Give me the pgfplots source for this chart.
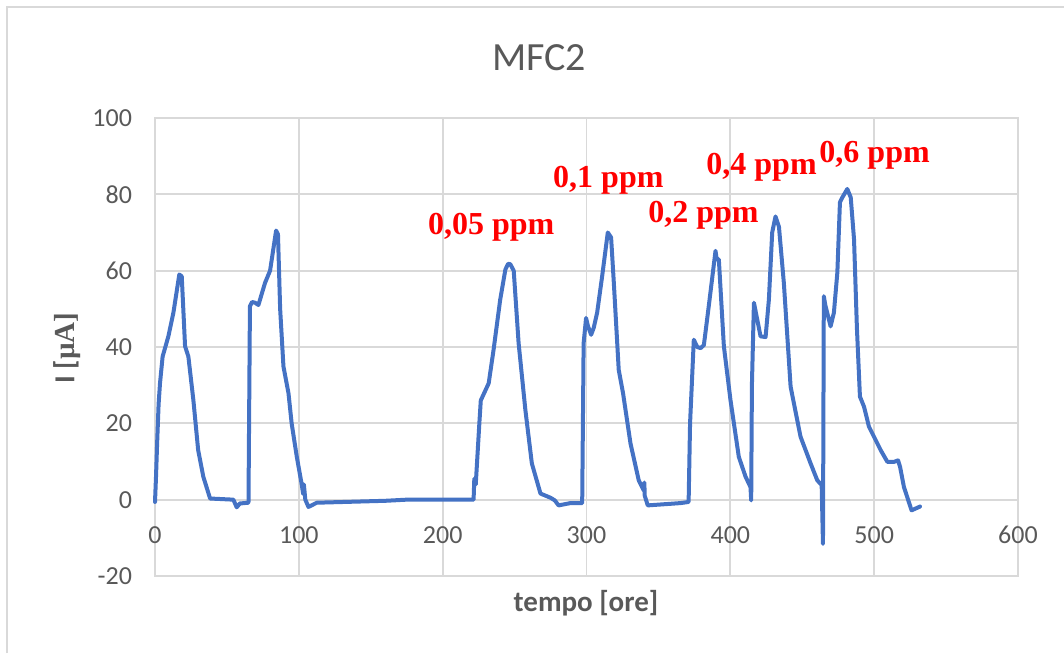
\documentclass[border=0pt]{standalone}
\usepackage{pgfplots}
\pgfplotsset{compat=1.18}
\usepackage{fontspec}
\setmainfont{Carlito}
\newfontfamily\timesf{Liberation Serif}
\definecolor{linblue}{HTML}{4472C4}
\definecolor{gridgr}{HTML}{D9D9D9}
\definecolor{txtgr}{HTML}{595959}
\definecolor{framegr}{HTML}{D9D9D9}
\begin{document}
\begin{tikzpicture}
\useasboundingbox (0,0) rectangle (532pt,326.5pt);
\draw[framegr, line width=1pt] (3.5pt,0pt) -- (3.5pt,323pt) -- (532pt,323pt);
\node[txtgr, font=\fontsize{20}{24}\selectfont] at (269.5pt,297.5pt) {MFC2};
\node[txtgr, font=\fontsize{14.5}{17}\selectfont\bfseries] at (293pt,25pt) {tempo [ore]};
\node[txtgr, rotate=90] at (33.5pt,152.5pt) {\fontsize{14.5}{17}\selectfont\bfseries I [\timesf µA]};
\begin{axis}[
  at={(77.5pt,38.5pt)}, anchor=south west,
  scale only axis, width=431.5pt, height=229pt,
  xmin=0, xmax=600, ymin=-20, ymax=100,
  xtick={0,100,...,600}, ytick={-20,0,...,100},
  grid=major,
  major grid style={gridgr, line width=0.9pt},
  axis line style={gridgr, line width=0.9pt},
  tick style={draw=none},
  /pgf/number format/assume math mode=true,
  tick label style={txtgr, font=\fontsize{13}{15}\selectfont},
  xticklabel style={anchor=center, yshift=20.5pt},
  yticklabel style={anchor=east, xshift=-8pt},
  clip=false,
]
\addplot[linblue, line width=2pt, line join=round, line cap=round, no marks] coordinates {
(0,-0.6) (0.7,6) (1.5,15) (2.5,25) (3.5,30.6) (5.3,37.5) (9.3,42.8) (12.8,49) (16.9,59) (18.6,58.5) (20.9,40.2) (23.2,37.5) (26.7,26) (30,13) (33.6,6) (38.3,0.3) (54.5,0) (56.8,-2) (59,-1) (65,-0.8)
(66,50.7) (67.5,51.8) (69.6,51.6) (71.9,51) (76.5,56.8) (80,60) (82,65) (84.2,70.5) (85.5,69.5) (87,50) (89.3,34.9) (92.8,27.9) (95,20) (98.6,11.2) (102,4) (103,1.5) (103.5,4) (104.5,0) (106.7,-1.9) (112.5,-0.8) (160,-0.3) (175,0)
(221.5,0) (222,5.5) (223,4) (225.5,20) (226.5,26) (232,30.5) (235.4,39.3) (240,52.4) (243.6,60.3) (245.5,61.8) (247,61.7) (249.4,60) (252.8,41) (257.5,23.5) (262,9.5) (268,1.6) (275,0.5) (278,-0.2) (280.6,-1.5) (288.8,-0.9) (297,-0.9)
(297.5,20) (298,41) (299.7,47.6) (301,45.5) (303.2,43.2) (305,45) (307.4,49) (310.9,58.6) (314.8,70) (317.1,68.7) (319,56.8) (322.4,34) (325.4,27.9) (330.6,14.7) (336.3,5.1) (339.8,2.4) (340.2,4.5) (340.5,1) (342.6,-1.5) (365.3,-0.9) (371,-0.6)
(372,20) (374.6,41.9) (377,40) (379.3,39.7) (381.6,40.5) (385,50.7) (389.7,65.2) (390.5,63) (392,63) (395.5,40.2) (400.1,26.1) (405.9,11.2) (410.6,6) (414,3.3) (414.5,-0.2)
(415,30) (416.4,51.6) (418.7,47.2) (421,42.8) (424.5,42.6) (426.8,52.4) (429.1,70) (431.4,74.2) (433.8,71.5) (437.2,56.8) (441.9,29.6) (448.8,16.5) (455.8,9.5) (460.4,5.1) (463.5,3.8) (464.4,-11.6)
(465,53.3) (466,51) (469.7,45.4) (472,49) (474.4,59.5) (476.2,77.9) (477.9,79.2) (481.3,81.4) (483.7,79.2) (486,68.2) (488,45) (490.1,27) (492.9,24.4) (496.4,19.1) (504.5,13) (509.2,9.9) (513.8,9.9) (516.6,10.3) (518,8.6) (520.7,3.3) (526,-2.8) (531.9,-1.8)
};
\begin{scope}[every node/.style={red, font=\fontsize{16}{19}\selectfont\timesf\bfseries}]
\node at (axis cs:233.8,71.4) {0,05 ppm};
\node at (axis cs:315.2,83.8) {0,1 ppm};
\node at (axis cs:381.3,74.6) {0,2 ppm};
\node at (axis cs:421.7,87.2) {0,4 ppm};
\node at (axis cs:500.3,90.3) {0,6 ppm};
\end{scope}
\end{axis}
\end{tikzpicture}
\end{document}
